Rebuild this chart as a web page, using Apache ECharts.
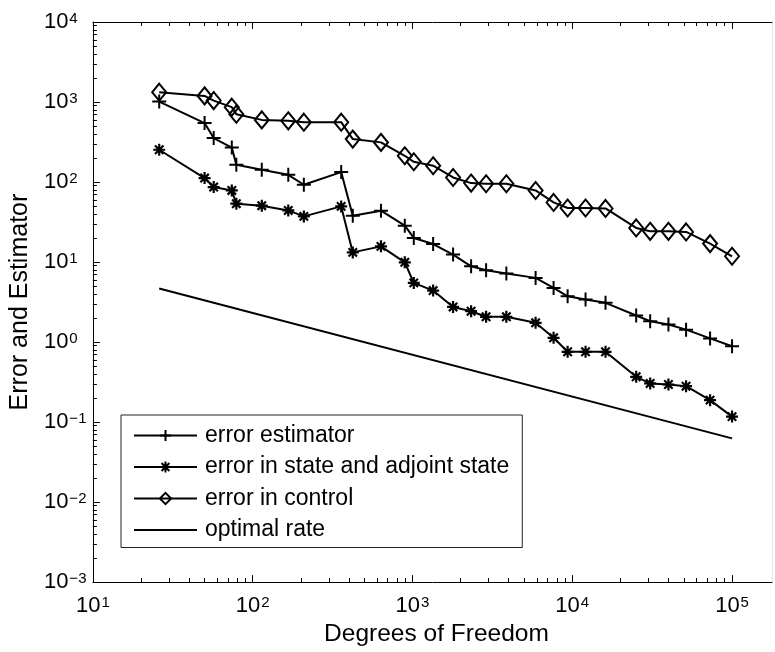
<!DOCTYPE html>
<html><head><meta charset="utf-8">
<script src="https://cdn.jsdelivr.net/npm/echarts@6/dist/echarts.min.js"></script>
<style>html,body{margin:0;padding:0;background:#fff}#c{width:775px;height:652px}</style>
</head><body><div id="c"></div>
<script>
// ---- data ----
const dof = [26, 50, 57, 74, 79, 114, 167, 209, 358, 423, 635, 895, 1019, 1347, 1795, 2328, 2889, 3868, 5896, 7640, 9352, 12110, 16150, 25120, 30730, 39990, 51560, 72860, 100000];
const errorEstimator = [1013, 545, 354, 270, 164, 142, 123, 92.5, 133, 37.9, 43.8, 28.5, 20.0, 16.8, 12.4, 8.85, 7.88, 7.17, 6.34, 4.75, 3.73, 3.40, 3.09, 2.15, 1.82, 1.66, 1.43, 1.11, 0.887];
const errorState = [253, 112, 86.5, 78.5, 53.6, 50.6, 44.2, 37.2, 49.6, 13.2, 15.7, 9.92, 5.49, 4.40, 2.75, 2.43, 2.07, 2.07, 1.74, 1.13, 0.756, 0.756, 0.756, 0.368, 0.304, 0.295, 0.281, 0.188, 0.117];
const errorControl = [1327, 1193, 1042, 862, 705, 598, 582, 560, 560, 344, 313, 213, 179, 160, 114, 97, 95, 95, 78.5, 55.6, 47.3, 47.3, 46.8, 26.7, 24.2, 24.2, 23.8, 17.0, 11.8];
const optimalDof = [26, 100000];
const optimalRate = [4.66, 0.0626];
const seriesNames = ['error estimator', 'error in state and adjoint state', 'error in control', 'optimal rate'];
const xTickExponents = [1, 2, 3, 4, 5];
const yTickExponents = [-3, -2, -1, 0, 1, 2, 3, 4];
const xRange = [1, 5.25];   // log10 extent of x axis
const yRange = [-3, 4];     // log10 extent of y axis

// ---- helpers ----
const FONT = '"Liberation Sans", Arial, Helvetica, sans-serif';
const pairs = (xs, ys) => xs.map((x, i) => [x, ys[i]]);
function minorTicks(exps) {
  const out = [];
  exps.forEach(e => { for (let k = 2; k <= 9; k++) out.push(e + Math.log10(k)); });
  return out;
}
const xMinor = minorTicks([1, 2, 3, 4, 5]).filter(v => v <= xRange[1]);
const yMinor = minorTicks([-3, -2, -1, 0, 1, 2, 3]);
const powLabel = v => '{b|10}{s|' + String(Math.round(v)).replace('-', '\u2212') + '}';
const rich = {
  b: { fontSize: 22, fontFamily: FONT, color: '#000', lineHeight: 22, padding: [8, 0, 0, 0], verticalAlign: 'bottom' },
  s: { fontSize: 15, fontFamily: FONT, color: '#000', lineHeight: 15, padding: [0, 0, 0, 1], verticalAlign: 'top' }
};
const black = { color: '#000', width: 1 };
const noLine = { show: false, onZero: false };
const hidden = { axisLine: noLine, axisTick: { show: false }, axisLabel: { show: false }, splitLine: { show: false } };

const plusPath = 'path://M5,0L5,10M0,5L10,5';
const starPath = 'path://M5,0L5,10M0,5L10,5M1.5,1.5L8.5,8.5M8.5,1.5L1.5,8.5';

const chart = echarts.init(document.getElementById('c'), null, { renderer: 'canvas' });
chart.setOption({
  animation: false,
  backgroundColor: '#fff',
  grid: { left: 92, top: 22, right: 3, bottom: 69, containLabel: false },
  xAxis: [
    Object.assign({ type: 'log', logBase: 10, min: 10, max: Math.pow(10, xRange[1]), position: 'bottom' }, hidden),
    { type: 'value', min: xRange[0], max: xRange[1], position: 'bottom',
      axisLine: { onZero: false, lineStyle: black }, splitLine: { show: false },
      axisTick: { inside: true, length: 7, lineStyle: black, customValues: xTickExponents },
      axisLabel: { customValues: xTickExponents, formatter: powLabel, rich: rich, margin: 13 },
      name: 'Degrees of Freedom', nameLocation: 'middle', nameGap: 36,
      nameTextStyle: { fontSize: 24.5, fontFamily: FONT, color: '#000', padding: [0, 0, 0, 8] } },
    { type: 'value', min: xRange[0], max: xRange[1], position: 'bottom',
      axisLine: noLine, splitLine: { show: false }, axisLabel: { show: false },
      axisTick: { inside: true, length: 4, lineStyle: black, customValues: xMinor } },
    { type: 'value', min: xRange[0], max: xRange[1], position: 'top',
      axisLine: { onZero: false, lineStyle: black }, splitLine: { show: false }, axisLabel: { show: false },
      axisTick: { inside: true, length: 7, lineStyle: black, customValues: xTickExponents } },
    { type: 'value', min: xRange[0], max: xRange[1], position: 'top',
      axisLine: noLine, splitLine: { show: false }, axisLabel: { show: false },
      axisTick: { inside: true, length: 4, lineStyle: black, customValues: xMinor } }
  ],
  yAxis: [
    Object.assign({ type: 'log', logBase: 10, min: 0.001, max: 10000, position: 'left' }, hidden),
    { type: 'value', min: yRange[0], max: yRange[1], position: 'left',
      axisLine: { onZero: false, lineStyle: black }, splitLine: { show: false },
      axisTick: { inside: true, length: 7, lineStyle: black, customValues: yTickExponents },
      axisLabel: { customValues: yTickExponents, formatter: powLabel, rich: rich, margin: 49, align: 'left' },
      name: 'Error and Estimator', nameLocation: 'middle', nameGap: 58,
      nameTextStyle: { fontSize: 25, fontFamily: FONT, color: '#000' } },
    { type: 'value', min: yRange[0], max: yRange[1], position: 'left',
      axisLine: noLine, splitLine: { show: false }, axisLabel: { show: false },
      axisTick: { inside: true, length: 4, lineStyle: black, customValues: yMinor } },
    { type: 'value', min: yRange[0], max: yRange[1], position: 'right',
      axisLine: { onZero: false, lineStyle: { color: '#e4e4e4', width: 1 } }, splitLine: { show: false },
      axisLabel: { show: false }, axisTick: { show: false } }
  ],
  legend: {
    left: 121, top: 415, orient: 'vertical',
    padding: [9, 13, 6, 12], itemGap: 8.5, itemWidth: 63, itemHeight: 14,
    borderColor: '#222', borderWidth: 1, backgroundColor: '#fff',
    textStyle: { fontSize: 23, fontFamily: FONT, color: '#000', lineHeight: 22, padding: [0, 0, 0, 3] },
    data: [seriesNames[0], seriesNames[1], seriesNames[2],
      { name: seriesNames[3], itemStyle: { opacity: 0 } }]
  },
  series: [
    { name: seriesNames[0], type: 'line', data: pairs(dof, errorEstimator), xAxisIndex: 0, yAxisIndex: 0,
      symbol: plusPath, symbolSize: 14, lineStyle: { color: '#000', width: 2 },
      itemStyle: { color: '#000', borderColor: '#000', borderWidth: 2 } },
    { name: seriesNames[1], type: 'line', data: pairs(dof, errorState), xAxisIndex: 0, yAxisIndex: 0,
      symbol: starPath, symbolSize: 12, lineStyle: { color: '#000', width: 2 },
      itemStyle: { color: '#000', borderColor: '#000', borderWidth: 2.2 } },
    { name: seriesNames[2], type: 'line', data: pairs(dof, errorControl), xAxisIndex: 0, yAxisIndex: 0,
      symbol: 'diamond', symbolSize: [14, 17], lineStyle: { color: '#000', width: 2 },
      itemStyle: { color: 'rgba(0,0,0,0)', borderColor: '#000', borderWidth: 2 } },
    { name: seriesNames[3], type: 'line', data: pairs(optimalDof, optimalRate), xAxisIndex: 0, yAxisIndex: 0,
      symbol: 'none', lineStyle: { color: '#000', width: 2 }, itemStyle: { color: '#000' } }
  ].map(s => Object.assign(s, { emphasis: { disabled: true }, silent: true }))
});
</script></body></html>
